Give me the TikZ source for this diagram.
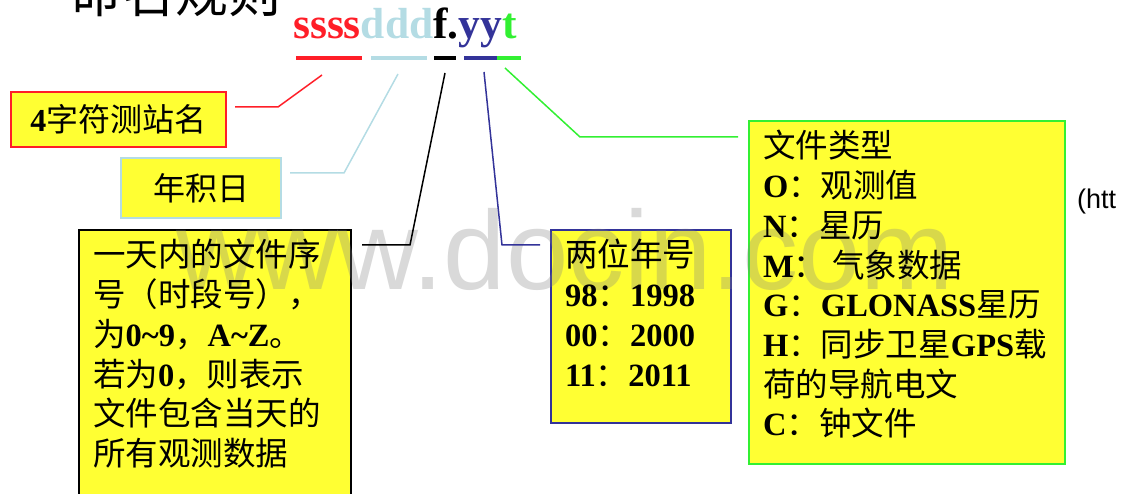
\documentclass[tikz,border=0pt]{standalone}
\usepackage{fontspec}
\setmainfont{Liberation Serif}
\newfontfamily\cjk{Noto Sans CJK SC}
\newfontfamily\wmfont{Liberation Sans}
\definecolor{myred}{RGB}{255,30,40}
\definecolor{mylblue}{RGB}{180,220,228}
\definecolor{mydblue}{RGB}{51,51,153}
\definecolor{mygreen}{RGB}{50,240,50}
\definecolor{myyellow}{RGB}{255,255,51}
\newcommand\zh[1]{{\cjk #1}}
\newcommand\stk[1]{\vtop{\baselineskip=39.7pt\lineskiplimit=-100pt\halign{##\hfil\cr#1\crcr}}}
\tikzset{
  box/.style={fill=myyellow, line width=2pt, inner sep=0pt, anchor=north west},
  lead/.style={line width=1.5pt},
  uline/.style={line width=4pt},
  body/.style={anchor=base west, inner sep=0pt, font=\fontsize{32.5}{40}\selectfont},
  boxtext/.style={font=\fontsize{32}{40}\selectfont},
}
\begin{document}
\begin{tikzpicture}[x=1pt,y=-1pt]
\useasboundingbox (0,0) rectangle (1122,494);
% title (cut off at top)
\node[anchor=base west, inner sep=0pt, font=\cjk\fontsize{53}{53}\selectfont] (title) at (69,13) {命名规则};
% file name pattern
\node[anchor=base west, inner sep=0pt, font=\bfseries\fontsize{43.5}{43.5}\selectfont] (pat) at (293,39)
  {\textcolor{myred}{ssss}\textcolor{mylblue}{ddd}f.\textcolor{mydblue}{yy}\textcolor{mygreen}{t}};
% underlines
\coordinate (ra) at (296,58); \coordinate (rb) at (362,58);
\coordinate (la) at (371,58); \coordinate (lb) at (427,58);
\coordinate (ka) at (434,58); \coordinate (kb) at (456,58);
\coordinate (ba) at (464,58); \coordinate (bb) at (497,58);
\coordinate (ga) at (497,58); \coordinate (gb) at (521,58);
\draw[uline, myred] (ra) -- (rb);
\draw[uline, mylblue] (la) -- (lb);
\draw[uline, black] (ka) -- (kb);
\draw[uline, mydblue] (ba) -- (bb);
\draw[uline, mygreen] (ga) -- (gb);
% boxes
\node[box, draw=myred, minimum width=215pt, minimum height=55pt, boxtext] (stn) at (10,91) {\textbf{4}\zh{字符测站名}};
\node[box, draw=mylblue, minimum width=160pt, minimum height=60pt, boxtext] (doy) at (120,157) {\zh{年积日}};
\node[box, draw=black, minimum width=272pt, minimum height=290pt] (seq) at (78,229) {};
\node[box, draw=mydblue, minimum width=180pt, minimum height=193pt] (yr) at (550,229) {};
\node[box, draw=mygreen, minimum width=316pt, minimum height=343pt] (typ) at (748,120) {};
% watermark
\node[anchor=base west, inner sep=0pt, font=\wmfont\fontsize{112}{112}\selectfont, text=gray, opacity=0.3] (wm) at (176,290) {www.docin.com};
% box texts
\node[body] (seqtext) at (93,267) {\stk{%
\zh{一天内的文件序}\cr
\zh{号（时段号），}\cr
\zh{为}\textbf{0\textasciitilde9}\zh{，}\textbf{A\textasciitilde Z}\zh{。}\cr
\zh{若为}\textbf{0}\zh{，则表示}\cr
\zh{文件包含当天的}\cr
\zh{所有观测数据}}};
\node[body] (yrtext) at (565,267) {\stk{%
\zh{两位年号}\cr
\textbf{98}\zh{：}\textbf{1998}\cr
\textbf{00}\zh{：}\textbf{2000}\cr
\textbf{11}\zh{：}\textbf{2011}}};
\node[body] (typtext) at (763,158) {\stk{%
\zh{文件类型}\cr
\textbf{O}\zh{：观测值}\cr
\textbf{N}\zh{：星历}\cr
\textbf{M}\zh{：\hspace{6pt}气象数据}\cr
\textbf{G}\zh{：}\textbf{GLONASS}\zh{星历}\cr
\textbf{H}\zh{：同步卫星}\textbf{GPS}\zh{载}\cr
\zh{荷的导航电文}\cr
\textbf{C}\zh{：钟文件}}};
% side text
\node[anchor=base west, inner sep=0pt, font=\wmfont\fontsize{27}{27}\selectfont] (htt) at (1077,209) {(htt};
% leader lines
\coordinate (r1) at (322,75); \coordinate (r2) at (278,107); \coordinate (r3) at (235,107);
\coordinate (l1) at (398,74); \coordinate (l2) at (344,173); \coordinate (l3) at (290,173);
\coordinate (k1) at (445,73); \coordinate (k2) at (410,245); \coordinate (k3) at (362,245);
\coordinate (b1) at (484,72); \coordinate (b2) at (502,245); \coordinate (b3) at (540,245);
\coordinate (g1) at (505,68); \coordinate (g2) at (580,137); \coordinate (g3) at (738,137);
\draw[lead, myred] (r1) -- (r2) -- (r3);
\draw[lead, mylblue] (l1) -- (l2) -- (l3);
\draw[lead, black] (k1) -- (k2) -- (k3);
\draw[lead, mydblue] (b1) -- (b2) -- (b3);
\draw[lead, mygreen] (g1) -- (g2) -- (g3);
\end{tikzpicture}
\end{document}
